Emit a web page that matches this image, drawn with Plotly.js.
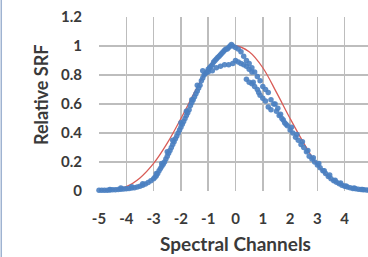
<!DOCTYPE html>
<html><head><meta charset="utf-8">
<script src="https://cdn.plot.ly/plotly-3.0.1.min.js"></script>
<style>html,body{margin:0;padding:0;overflow:hidden;background:#fff;width:368px;height:257px}</style>
</head><body><div id="chart"></div>
<script>
const redX = [-5,-4.5,-4,-3.5,-3,-2.5,-2,-1.5,-1,-0.5,0,0.5,1,1.5,2,2.5,3,3.5,4,4.5,5];
const redY = [0.0,0.01,0.03,0.09,0.19,0.33,0.5,0.68,0.85,0.96,1.0,0.96,0.85,0.68,0.5,0.33,0.18,0.08,0.03,0.01,0.0];

const blueX = [
 -5.0,-4.9,-4.8,-4.7,-4.6,-4.5,-4.4,-4.3,-4.2,-4.1,-4.0,-3.9,-3.8,-3.7,-3.6,-3.5,-3.4,-3.3,-3.2,-3.1,
 -3.0,-2.95,-2.9,-2.85,-2.8,-2.75,-2.7,-2.65,-2.6,-2.55,-2.5,-2.45,-2.4,-2.35,-2.3,-2.25,-2.2,-2.15,-2.1,-2.05,
 -2.0,-1.95,-1.9,-1.85,-1.8,-1.75,-1.7,-1.65,-1.6,-1.55,-1.5,-1.45,-1.4,-1.35,-1.3,-1.25,-1.2,-1.15,-1.1,-1.05,
 -1.0,-0.95,-0.9,-0.85,-0.8,-0.75,-0.7,-0.65,-0.6,-0.55,-0.5,-0.45,-0.4,-0.35,-0.3,-0.25,-0.2,-0.15,-0.1,
 -2.9,-2.7,-2.5,-2.3,-2.0,-1.8,-1.6,-1.4,-1.2,-4.6,-4.2,-3.8,-3.4,
 -1.0,-0.85,-0.7,-0.55,-0.4,-0.25,-0.1,0.0,0.1,0.2,0.3,0.4,0.5,0.6,
 0.0,0.1,0.2,0.3,0.4,0.5,0.6,0.7,0.8,0.9,
 0.4,0.5,0.6,0.65,0.7,0.8,0.85,0.9,1.0,1.1,1.2,1.3,
 1.0,1.1,1.2,1.3,1.4,1.5,1.6,1.7,1.8,1.9,2.0,2.1,2.2,2.3,2.4,2.5,2.6,2.7,2.8,2.9,
 3.0,3.1,3.2,3.3,3.4,3.5,3.6,3.7,3.8,3.9,4.0,4.1,4.2,4.3,4.4,4.5,4.6,4.7,4.8,4.9,5.0,
 1.45,1.55,1.65,1.75,1.85,2.05,2.25,2.45,2.65,2.85,3.05,3.25,3.45,3.65,3.85,4.05,4.35,4.65
];
const blueY = [
 0.005,0.005,0.006,0.006,0.007,0.008,0.009,0.01,0.012,0.013,0.015,0.017,0.02,0.023,0.027,0.032,0.04,0.048,0.058,0.07,
 0.085,0.095,0.105,0.12,0.14,0.155,0.17,0.185,0.2,0.22,0.24,0.26,0.28,0.3,0.32,0.34,0.36,0.38,0.4,0.42,
 0.44,0.46,0.48,0.5,0.52,0.54,0.56,0.59,0.61,0.63,0.65,0.67,0.69,0.71,0.73,0.76,0.78,0.8,0.81,0.82,
 0.84,0.85,0.86,0.87,0.89,0.9,0.91,0.92,0.93,0.94,0.95,0.96,0.97,0.98,0.98,0.99,1.0,1.01,1.0,
 0.12,0.19,0.27,0.35,0.47,0.55,0.63,0.73,0.83,0.01,0.02,0.03,0.05,
 0.82,0.83,0.85,0.86,0.87,0.87,0.88,0.9,0.89,0.88,0.87,0.86,0.84,0.82,
 0.99,0.98,0.96,0.93,0.9,0.88,0.85,0.82,0.79,0.76,
 0.77,0.75,0.74,0.75,0.72,0.7,0.68,0.66,0.64,0.62,0.58,0.56,
 0.72,0.7,0.68,0.63,0.6,0.55,0.52,0.5,0.47,0.45,0.42,0.4,0.37,0.35,0.32,0.3,0.27,0.24,0.22,0.2,
 0.18,0.16,0.14,0.12,0.1,0.085,0.07,0.06,0.05,0.04,0.033,0.027,0.022,0.018,0.015,0.012,0.01,0.008,0.007,0.006,0.005,
 0.6,0.57,0.53,0.49,0.46,0.44,0.39,0.34,0.28,0.23,0.19,0.14,0.11,0.075,0.055,0.035,0.02,0.01
];

const xTicks = [-5,-4,-3,-2,-1,0,1,2,3,4,5];
const yTicks = [0,0.2,0.4,0.6,0.8,1,1.2];
const yTickText = ['0','0.2','0.4','0.6','0.8','1','1.2'];

const font = 'Lato, "Open Sans", sans-serif';
const data = [
 {x: redX, y: redY, type:'scatter', mode:'lines', line:{color:'#d95c57', width:1.3, shape:'spline'}, cliponaxis:false, hoverinfo:'skip'},
 {x: blueX, y: blueY, type:'scatter', mode:'markers', marker:{color:'#4a7fc1', size:5.5, opacity:0.9}, cliponaxis:false}
];
const layout = {
 width: 380, height: 257,
 margin: {l:99, r:8, t:17, b:66},
 showlegend: false,
 paper_bgcolor:'#fff', plot_bgcolor:'#fff',
 font: {family: font, color:'#404040'},
 xaxis: {range:[-5,5], tickvals:xTicks, ticktext:xTicks.map(String), showgrid:true, gridcolor:'#bdbdbd', gridwidth:1.5,
   zeroline:false, showline:false, ticks:'', ticklabelstandoff:17, tickfont:{size:15, family:font, weight:'bold', color:'#3a3a3a'},
   title:{text:'Spectral Channels', font:{size:19, family:font, weight:'bold', color:'#3a3a3a'}, standoff:11}},
 yaxis: {range:[0,1.2], tickvals:yTicks, ticktext:yTickText, showgrid:true, gridcolor:'#bdbdbd', gridwidth:1.5,
   zeroline:false, showline:false, ticks:'', ticklabelstandoff:16, tickfont:{size:15, family:font, weight:'bold', color:'#3a3a3a'}},
 annotations: [{text:'Relative SRF', xref:'paper', yref:'paper', x:-0.2125, y:0.557, xanchor:'center', yanchor:'middle',
   textangle:-90, showarrow:false, font:{size:18, family:font, weight:'bold', color:'#3a3a3a'}}],
 shapes: [{type:'line', xref:'paper', yref:'paper', x0:-0.358, x1:-0.358, y0:-0.38, y1:1.1, line:{color:'#9fb3d1', width:1.5}}]
};
Plotly.newPlot('chart', data, layout, {staticPlot:true, displayModeBar:false});
</script></body></html>
